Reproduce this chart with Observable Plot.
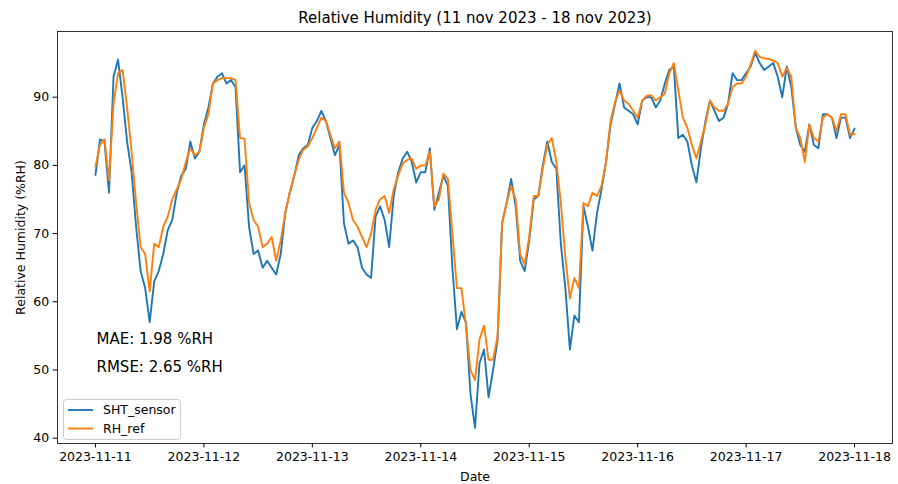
<!DOCTYPE html>
<html><head><meta charset="utf-8">
<script src="https://cdn.jsdelivr.net/npm/d3@7"></script>
<script src="https://cdn.jsdelivr.net/npm/@observablehq/plot@0.6"></script>
<style>body{margin:0;background:#fff;font-family:"DejaVu Sans",sans-serif}</style>
</head><body><div id="chart"></div>
<script>
const titleText = "Relative Humidity (11 nov 2023 - 18 nov 2023)";
const startTime = "2023-11-11T00:00:00Z";
const stepMinutes = 60;
const seriesNames = ["SHT_sensor", "RH_ref"];
const seriesColors = ["#1f77b4", "#ff7f0e"];
const xTickLabels = ["2023-11-11","2023-11-12","2023-11-13","2023-11-14","2023-11-15","2023-11-16","2023-11-17","2023-11-18"];
const yTicks = [40, 50, 60, 70, 80, 90];
const statsLabels = ["MAE: 1.98 %RH", "RMSE: 2.65 %RH"];

const sensorValues = [
78.6,83.8,83.5,76.0,93.0,95.5,90.0,83.5,79.0,71.0,64.5,62.0,57.0,63.0,64.5,67.0,70.5,72.0,76.0,78.5,79.5,83.5,81.0,82.0,
86.0,88.5,92.0,93.0,93.5,92.0,92.5,91.5,79.0,80.0,71.0,67.0,67.5,65.0,66.0,65.0,64.0,67.0,73.0,76.0,78.5,81.5,82.5,83.0,
85.5,86.5,88.0,86.5,84.0,81.5,83.0,71.5,68.5,69.0,68.0,65.0,64.0,63.5,72.5,74.0,72.0,68.0,75.5,79.0,81.0,82.0,80.5,77.5,
79.0,79.0,82.5,73.5,76.0,78.5,77.0,65.0,56.0,58.5,57.0,46.5,41.5,51.0,53.0,46.0,50.0,54.5,71.5,74.5,78.0,74.0,66.0,64.5,
69.0,75.0,75.5,80.0,83.5,80.5,79.5,68.5,62.0,53.0,58.0,57.0,74.0,71.0,67.5,73.0,76.5,80.5,86.0,89.0,92.0,88.5,88.0,87.5,
86.0,89.5,90.0,90.0,88.5,89.5,92.0,94.0,94.5,84.0,84.5,83.5,80.0,77.5,82.5,86.5,89.5,88.0,86.5,87.0,89.0,93.5,92.5,92.5,
93.5,94.5,96.5,95.0,94.0,94.5,95.0,93.0,90.0,94.5,91.5,85.5,83.0,82.0,86.0,83.0,82.5,87.5,87.5,87.0,84.0,87.0,87.0,84.0,
85.4
];
const refValues = [
79.8,83.0,83.8,77.8,89.0,93.5,94.0,88.5,82.0,74.5,68.0,67.0,61.5,68.5,68.0,71.0,72.5,75.0,76.5,78.0,80.5,82.5,81.5,82.0,
85.5,87.5,92.0,92.5,92.8,92.8,92.8,92.5,84.0,83.9,74.5,72.0,71.0,68.0,68.5,69.5,66.0,69.0,73.0,76.0,78.5,80.8,82.3,82.8,
84.0,85.5,87.0,86.5,84.5,82.5,83.5,76.0,74.5,72.0,71.0,69.5,68.0,70.0,73.5,75.0,75.5,73.0,76.5,78.5,80.3,80.8,81.0,79.5,
80.0,80.0,82.0,74.0,75.0,78.8,78.0,70.0,62.0,62.0,56.5,50.0,48.5,54.5,56.5,51.5,51.5,55.0,71.5,74.5,77.0,75.0,67.0,65.5,
69.5,75.5,75.5,79.5,83.0,84.0,80.5,74.5,66.5,60.5,63.5,62.0,74.5,74.0,76.0,75.5,77.0,80.5,86.5,89.3,91.0,89.5,89.0,88.0,
87.0,89.5,90.2,90.3,89.5,90.0,90.5,93.5,95.0,91.0,87.0,85.5,83.0,81.0,83.5,86.0,89.5,88.5,88.0,88.0,89.0,91.5,92.0,92.0,
93.0,94.8,96.8,95.9,95.7,95.6,95.4,95.0,93.0,94.3,93.0,85.5,84.0,80.5,86.0,84.0,83.5,87.0,87.5,87.0,85.0,87.5,87.5,84.5,
84.6
];

const t0 = new Date(startTime).getTime();
const rows = [];
[sensorValues, refValues].forEach((vals, s) => {
  vals.forEach((v, i) => rows.push({time: new Date(t0 + i * stepMinutes * 60000), value: v, series: seriesNames[s]}));
});

const xTicks = xTickLabels.map(s => new Date(s + "T00:00:00Z"));
const day = 864e5;
const xDomain = [new Date(+xTicks[0] - 0.35 * day), new Date(+xTicks[xTicks.length - 1] + 0.35 * day)];

const chart = Plot.plot({
  width: 898, height: 484,
  marginLeft: 57, marginRight: 6, marginTop: 31, marginBottom: 41,
  style: {fontFamily: "DejaVu Sans", fontSize: "12.5px", color: "black", background: "white"},
  x: {type: "utc", domain: xDomain, ticks: xTicks, tickFormat: d3.utcFormat("%Y-%m-%d"),
      tickSize: 4.4, tickPadding: 4, label: "Date", labelAnchor: "center", labelArrow: "none", labelOffset: 37},
  y: {domain: [39.22, 99.63], ticks: yTicks, tickSize: 4.4, tickPadding: 4,
      label: "Relative Humidity (%RH)", labelAnchor: "center", labelArrow: "none", labelOffset: 41},
  color: {domain: seriesNames, range: seriesColors},
  marks: [
    Plot.line(rows, {x: "time", y: "value", z: "series", stroke: "series", strokeWidth: 1.9, strokeLinejoin: "round"}),
    Plot.frame({stroke: "black", strokeWidth: 0.8}),
    Plot.text([titleText], {frameAnchor: "top", dy: -13, lineAnchor: "middle", fontSize: 15, fill: "black"}),
    ...statsLabels.map((s, i) => Plot.text([s], {frameAnchor: "top-left", dx: 39, dy: 308 + 28 * i, lineAnchor: "middle", textAnchor: "start", fontSize: 15, fill: "black"}))
  ]
});
document.getElementById("chart").appendChild(chart);

// legend drawn inside the SVG
const svg = d3.select(chart);
const lg = svg.append("g").attr("font-family", "DejaVu Sans").attr("font-size", 12.5).attr("text-anchor", "start");
lg.append("rect").attr("x", 63.5).attr("y", 399.5).attr("width", 117).attr("height", 40).attr("rx", 3)
  .attr("fill", "white").attr("fill-opacity", 0.8).attr("stroke", "#cccccc").attr("stroke-width", 1);
seriesNames.forEach((name, i) => {
  const y = 410 + 18.5 * i;
  lg.append("line").attr("x1", 68).attr("x2", 93).attr("y1", y).attr("y2", y)
    .attr("stroke", seriesColors[i]).attr("stroke-width", 1.9);
  lg.append("text").attr("x", 103).attr("y", y).attr("dy", "0.35em").attr("text-anchor", "start").attr("fill", "black").text(name);
});
</script></body></html>
